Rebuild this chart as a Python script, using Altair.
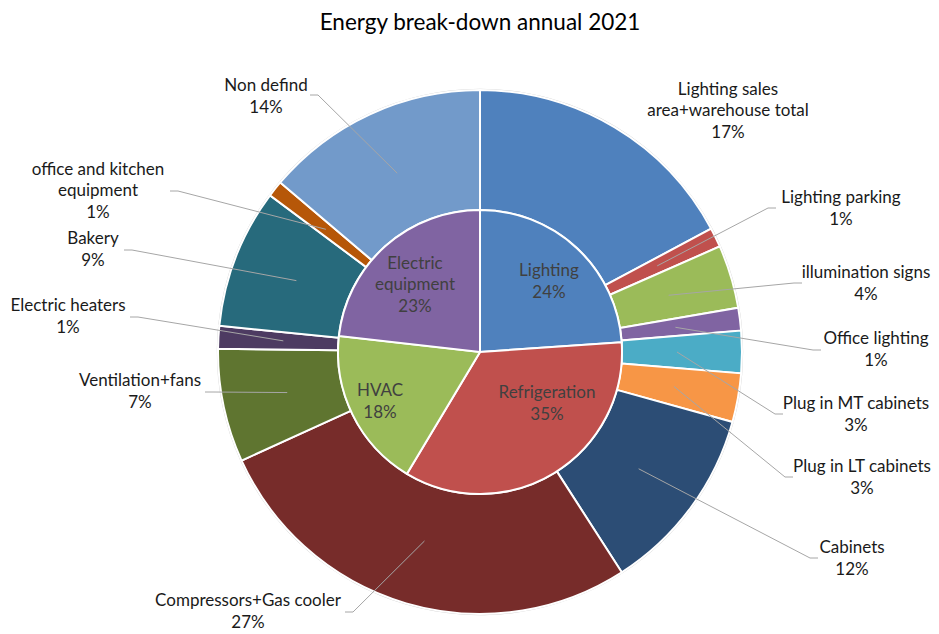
import math
import altair as alt
import pandas as pd

# ---------------- data ----------------
inner_names = ["Lighting", "Refrigeration", "HVAC", "Electric equipment"]
inner_values = [23.9, 34.7, 18.2, 23.2]
inner_label_text = ["Lighting", "Refrigeration", "HVAC", "Electric\nequipment"]
inner_colors = ["#4F81BD", "#C0504D", "#9BBB59", "#8064A2"]

outer_names = [
    "Lighting sales area+warehouse total", "Lighting parking", "illumination signs",
    "Office lighting", "Plug in MT cabinets", "Plug in LT cabinets", "Cabinets",
    "Compressors+Gas cooler", "Ventilation+fans", "Electric heaters", "Bakery",
    "office and kitchen equipment", "Non defind",
]
outer_values = [17.2, 1.2, 3.9, 1.4, 2.6, 3.0, 11.6, 27.3, 7.0, 1.4, 8.6, 1.0, 13.8]
outer_label_text = [
    "Lighting sales\narea+warehouse total", "Lighting parking", "illumination signs",
    "Office lighting", "Plug in MT cabinets", "Plug in LT cabinets", "Cabinets",
    "Compressors+Gas cooler", "Ventilation+fans", "Electric heaters", "Bakery",
    "office and kitchen\nequipment", "Non defind",
]
outer_colors = ["#4F81BD", "#C0504D", "#9BBB59", "#8064A2", "#4BACC6", "#F79646",
                "#2C4D75", "#772C2A", "#5F7530", "#4D3B62", "#276A7C", "#B65708",
                "#729ACA"]

TITLE = "Energy break-down annual 2021"

# ---------------- layout (pixels, relative to pie centre) ----------------
W, H = 900, 560
CX, CY = W / 2, H / 2
R_IN, R_OUT = 142, 262
R_LEADER = 197
FONT = "Lato"
FS = 17
LH = 21.5

inner_label_offset = [(69, -70), (67, 52), (-100, 50), (-65, -67)]
outer_label_offset = [(248, -241), (361, -143), (386, -68), (396, -2), (376, 63),
                      (382, 126), (372, 207), (-232, 260), (-340, 40), (-412, -35),
                      (-387, -102), (-382, -161), (-214, -255)]
outer_elbow = [None, (288, -144), (314, -69), (333, -2), (295, 62), (305, 125),
               (330, 206), (-127, 260), (-267, 40), (-342, -35), (-348, -102),
               (-302, -161), (-162, -257)]
TAIL = 8

# ---------------- tables ----------------
def pct(v):
    return f"{int(round(v))}%"


def block_top(label, oy):
    # first-line centre so that the whole multi-line block is centred on oy
    n = label.count("\n") + 1
    return CY + oy - (n - 1) * LH / 2


inner_labels = [f"{t}\n{pct(v)}" for t, v in zip(inner_label_text, inner_values)]
outer_labels = [f"{t}\n{pct(v)}" for t, v in zip(outer_label_text, outer_values)]

inner_df = pd.DataFrame({
    "name": inner_names, "value": inner_values, "idx": range(len(inner_names)),
    "label": inner_labels,
    "lx": [CX + o[0] for o in inner_label_offset],
    "ly": [block_top(l, o[1]) for l, o in zip(inner_labels, inner_label_offset)],
})
outer_df = pd.DataFrame({
    "name": outer_names, "value": outer_values, "idx": range(len(outer_names)),
    "label": outer_labels,
    "lx": [CX + o[0] for o in outer_label_offset],
    "ly": [block_top(l, o[1]) for l, o in zip(outer_labels, outer_label_offset)],
})

total = sum(outer_values)
rows = []
cum = 0.0
for i, v in enumerate(outer_values):
    mid = (cum + v / 2) / total * 2 * math.pi
    cum += v
    e = outer_elbow[i]
    if e is None:
        continue
    sx, sy = CX + R_LEADER * math.sin(mid), CY - R_LEADER * math.cos(mid)
    ex, ey = CX + e[0], CY + e[1]
    tx = ex + (TAIL if e[0] > 0 else -TAIL)
    for k, (px, py) in enumerate([(sx, sy), (ex, ey), (tx, ey)]):
        rows.append({"name": outer_names[i], "k": k, "px": px, "py": py})
leader_df = pd.DataFrame(rows)

# ---------------- chart ----------------
outer_scale = alt.Scale(domain=outer_names, range=outer_colors)
inner_scale = alt.Scale(domain=inner_names, range=inner_colors)

edge = alt.Chart(outer_df).mark_arc(innerRadius=R_OUT, outerRadius=R_OUT + 1.2,
                                    color="#cfcfcf").encode(
    theta=alt.Theta("value:Q", stack=True),
    order=alt.Order("idx:Q"),
)

outer = alt.Chart(outer_df).mark_arc(innerRadius=R_IN, outerRadius=R_OUT,
                                     stroke="white", strokeWidth=2).encode(
    theta=alt.Theta("value:Q", stack=True),
    color=alt.Color("name:N", scale=outer_scale, legend=None),
    order=alt.Order("idx:Q"),
)

inner = alt.Chart(inner_df).mark_arc(innerRadius=0, outerRadius=R_IN,
                                     stroke="white", strokeWidth=2).encode(
    theta=alt.Theta("value:Q", stack=True),
    color=alt.Color("name:N", scale=inner_scale, legend=None),
    order=alt.Order("idx:Q"),
)

leaders = alt.Chart(leader_df).mark_line(color="#a6a6a6", strokeWidth=1).encode(
    x=alt.X("px:Q", scale=None),
    y=alt.Y("py:Q", scale=None),
    detail="name:N",
    order="k:Q",
)

inner_text = alt.Chart(inner_df).mark_text(
    font=FONT, fontSize=FS, color="#404040", lineBreak="\n", lineHeight=LH,
    align="center", baseline="middle",
).encode(x=alt.X("lx:Q", scale=None), y=alt.Y("ly:Q", scale=None), text="label:N")

outer_text = alt.Chart(outer_df).mark_text(
    font=FONT, fontSize=FS, color="#1a1a1a", lineBreak="\n", lineHeight=LH,
    align="center", baseline="middle",
).encode(x=alt.X("lx:Q", scale=None), y=alt.Y("ly:Q", scale=None), text="label:N")

chart = alt.layer(edge, outer, inner, leaders, inner_text, outer_text).resolve_scale(
    color="independent"
).properties(
    width=W, height=H,
    background="white",
    autosize=alt.AutoSizeParams(type="none"),
    padding={"left": 22, "top": 64, "right": 1, "bottom": 0},
    title=alt.TitleParams(TITLE, font=FONT, fontSize=22.5, fontWeight="normal",
                          color="#000000", anchor="middle", offset=38),
).configure_view(stroke="transparent", strokeWidth=0)

chart.save("out.html", embed_options={"renderer": "svg", "actions": False})
